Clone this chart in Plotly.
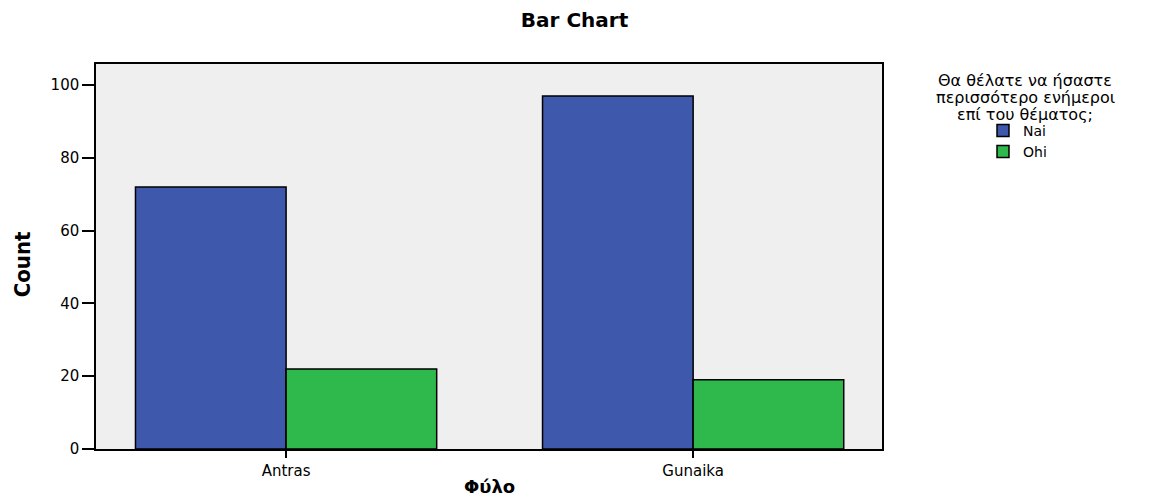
import plotly.graph_objects as go

categories = ["Antras", "Gunaika"]
series_names = ["Nai", "Ohi"]
nai_counts = [72, 97]
ohi_counts = [22, 19]
y_ticks = [0, 20, 40, 60, 80, 100]
legend_heading = ["Θα θέλατε να ήσαστε", "περισσότερο ενήμεροι", "επί του θέματος;"]

colors = {"Nai": "#3e58ac", "Ohi": "#2fb84b"}

fig = go.Figure()
for name, vals in zip(series_names, [nai_counts, ohi_counts]):
    fig.add_trace(go.Bar(
        x=categories, y=vals, name=name,
        marker=dict(color=colors[name], line=dict(color="#000000", width=1.5)),
    ))

base_font = "DejaVu Sans, Arial, sans-serif"

fig.update_layout(
    width=1156, height=499,
    margin=dict(l=96, r=274, t=64, b=50, autoexpand=False),
    paper_bgcolor="white",
    plot_bgcolor="#efefef",
    barmode="group",
    bargap=0.26,
    bargroupgap=0,
    font=dict(family=base_font, color="#000000", size=14),
    title=dict(text="<b>Bar Chart</b>", x=0.497, xref="container", xanchor="center",
               y=0.96, yref="container", yanchor="middle",
               font=dict(size=20, family=base_font)),
    xaxis=dict(
        range=[-0.467, 1.464],
        automargin=False,
        showgrid=False, zeroline=False,
        showline=True, linecolor="#000000", linewidth=1.5, mirror=True,
        ticks="outside", ticklen=7, tickcolor="#000000", tickwidth=1.5,
        tickfont=dict(size=15),
    ),
    yaxis=dict(
        range=[0, 105.8],
        automargin=False,
        tickvals=y_ticks,
        showgrid=False, zeroline=False,
        showline=True, linecolor="#000000", linewidth=1.5, mirror=True,
        ticks="outside", ticklen=12, tickcolor="#000000", tickwidth=1.5,
        tickfont=dict(size=15),
    ),
    legend=dict(
        x=1.1285, xref="paper", xanchor="left",
        y=0.868, yref="paper", yanchor="top",
        bgcolor="rgba(0,0,0,0)",
        font=dict(size=14, family=base_font),
        itemwidth=30, tracegroupgap=0,
    ),
    showlegend=True,
)

# Legend heading, one line per annotation so the line spacing stays tight
for i, line in enumerate(legend_heading):
    fig.add_annotation(
        text=line, xref="paper", yref="paper",
        x=1.182, y=(449 - (80 + 17 * i)) / 385,
        xanchor="center", yanchor="middle",
        showarrow=False, font=dict(size=16, family=base_font),
    )

# Axis titles
fig.add_annotation(
    text="<b>Φύλο</b>", xref="paper", yref="paper", x=0.5, y=-0.0987,
    xanchor="center", yanchor="middle", showarrow=False,
    font=dict(size=18, family=base_font),
)
fig.add_annotation(
    text="<b>Count</b>", xref="paper", yref="paper", x=-0.094, y=0.48,
    xanchor="center", yanchor="middle", showarrow=False, textangle=-90,
    font=dict(size=22, family="DejaVu Sans Condensed, Liberation Sans Narrow, sans-serif"),
)

fig.write_html("out.html")
